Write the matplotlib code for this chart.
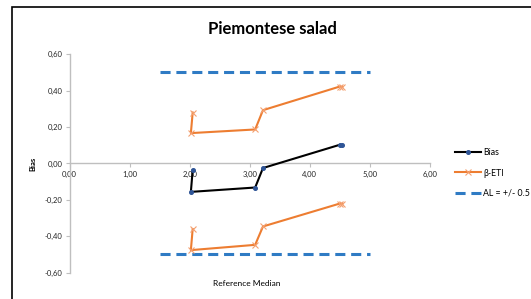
import matplotlib.pyplot as plt
from matplotlib.ticker import FuncFormatter, MultipleLocator
from matplotlib.patches import Rectangle

plt.rcParams['font.family'] = ['Lato', 'DejaVu Sans']

# data
ref_median = [2.05, 2.02, 3.09, 3.22, 4.50, 4.54]
bias = [-0.036, -0.156, -0.132, -0.025, 0.103, 0.100]
eti_upper = [0.280, 0.167, 0.187, 0.293, 0.423, 0.421]
eti_lower = [-0.360, -0.476, -0.447, -0.346, -0.220, -0.221]
al_x = [1.5, 5.0]
al_upper = [0.5, 0.5]
al_lower = [-0.5, -0.5]

fig = plt.figure(figsize=(5.31, 2.99), dpi=100)
ax = fig.add_axes([0.1309, 0.088, 0.6789, 0.7304])

orange = '#ED7D31'
blue = '#2F7BC4'
dash = (0, (3.3, 1.9))

ax.plot(ref_median, bias, color='black', lw=1.5, marker='o', ms=2.6,
        mfc='#2F5597', mec='#2F5597', label='Bias', zorder=4)
ax.plot(ref_median, eti_upper, color=orange, lw=1.5, marker='x', ms=4,
        mew=0.8, mec='#F4A070', label='\u03b2-ETI', zorder=3)
ax.plot(ref_median, eti_lower, color=orange, lw=1.5, marker='x', ms=4,
        mew=0.8, mec='#F4A070', zorder=3)
ax.plot(al_x, al_upper, color=blue, lw=2.2, ls=dash, dash_capstyle='butt',
        label='AL = +/- 0.5', zorder=2)
ax.plot(al_x, al_lower, color=blue, lw=2.2, ls=dash, dash_capstyle='butt',
        zorder=2)

ax.set_xlim(0, 6)
ax.set_ylim(-0.6, 0.6)
ax.xaxis.set_major_locator(MultipleLocator(1))
ax.yaxis.set_major_locator(MultipleLocator(0.2))
fmt = FuncFormatter(lambda v, p: f"{v:.2f}".replace('.', ',').replace('-0,00', '0,00'))
ax.xaxis.set_major_formatter(fmt)
ax.yaxis.set_major_formatter(fmt)

gray = '#BFBFBF'
for s in ['top', 'right']:
    ax.spines[s].set_visible(False)
ax.spines['bottom'].set_position(('data', 0))
ax.spines['bottom'].set_color(gray)
ax.spines['left'].set_color(gray)
ax.spines['bottom'].set_linewidth(1.0)
ax.spines['left'].set_linewidth(1.0)
ax.tick_params(axis='both', colors=gray, length=3, width=0.8, labelsize=5.5,
               labelcolor='#262626', pad=2)

fig.text(272 / 531, 1 - 29 / 299, 'Piemontese salad', fontsize=12,
         fontweight='bold', ha='center', va='center')
ax.set_ylabel('Bias', fontsize=5.5, fontweight='bold', labelpad=6)
fig.text(247 / 531, 1 - 283 / 299, 'Reference Median', fontsize=6,
         ha='center', va='center')

ax.legend(loc='center left', bbox_to_anchor=(455 / 531, 1 - 173 / 299),
          bbox_transform=fig.transFigure, frameon=False, fontsize=6.3,
          handlelength=3.0, handletextpad=0.2, labelspacing=1.3,
          borderaxespad=0, borderpad=0, numpoints=1)

fig.patches.append(Rectangle((12 / 531, -0.1), 1.2, 1 - 7 / 299 + 0.1,
                             transform=fig.transFigure, fill=False,
                             edgecolor='black', lw=1.2))

fig.savefig('out.png', dpi=100)
